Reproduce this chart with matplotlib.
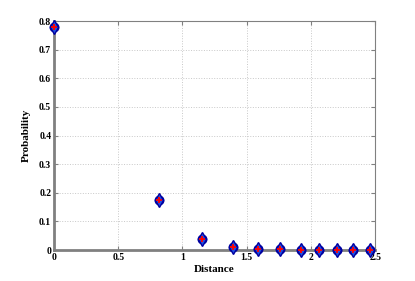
import matplotlib.pyplot as plt
import numpy as np

# Values
distance = [0.0, 0.82, 1.15, 1.39, 1.59, 1.76, 1.92, 2.06, 2.20, 2.33, 2.46]
probability = [0.779, 0.175, 0.038, 0.012, 0.004, 0.003, 0.002, 0.002, 0.002, 0.002, 0.002]
x_ticks = [0, 0.5, 1, 1.5, 2, 2.5]
y_ticks = [0, 0.1, 0.2, 0.3, 0.4, 0.5, 0.6, 0.7, 0.8]

plt.rcParams['font.family'] = ['Liberation Serif', 'DejaVu Serif']
plt.rcParams['font.weight'] = 'bold'

fig = plt.figure(figsize=(4.15, 2.81), dpi=100)
ax = fig.add_axes([0.130, 0.110, 0.774, 0.815])

# blue rounded diamond with a red cross inside
ax.plot(distance, probability, linestyle='none', marker='o', markersize=6,
        markerfacecolor='#2050e0', markeredgecolor='#0000a0', markeredgewidth=1.2,
        clip_on=False, zorder=3)
ax.plot(distance, probability, linestyle='none', marker='d', markersize=7.5,
        markerfacecolor='#2050e0', markeredgecolor='#0000a0', markeredgewidth=1.0,
        clip_on=False, zorder=3)
ax.plot(distance, probability, linestyle='none', marker='+', markersize=4,
        color='red', markeredgewidth=1.3, clip_on=False, zorder=4)

ax.set_xlim(0, 2.5)
ax.set_ylim(0, 0.8)
ax.set_xticks(x_ticks)
ax.set_xticklabels(['0', '0.5', '1', '1.5', '2', '2.5'])
ax.set_yticks(y_ticks)
ax.set_yticklabels(['0', '0.1', '0.2', '0.3', '0.4', '0.5', '0.6', '0.7', '0.8'])
ax.tick_params(direction='in', labelsize=7, length=3, color='#808080',
               top=True, right=True, pad=2)
ax.grid(True, linestyle=':', color='#c8c8c8', linewidth=0.7)
for s in ax.spines.values():
    s.set_color('#808080')
ax.spines['left'].set_linewidth(2)
ax.spines['bottom'].set_linewidth(2)

ax.set_xlabel('Distance', fontsize=8, fontweight='bold', labelpad=2)
ax.set_ylabel('Probability', fontsize=8, fontweight='bold', labelpad=6)

fig.savefig('out.png', dpi=100)
